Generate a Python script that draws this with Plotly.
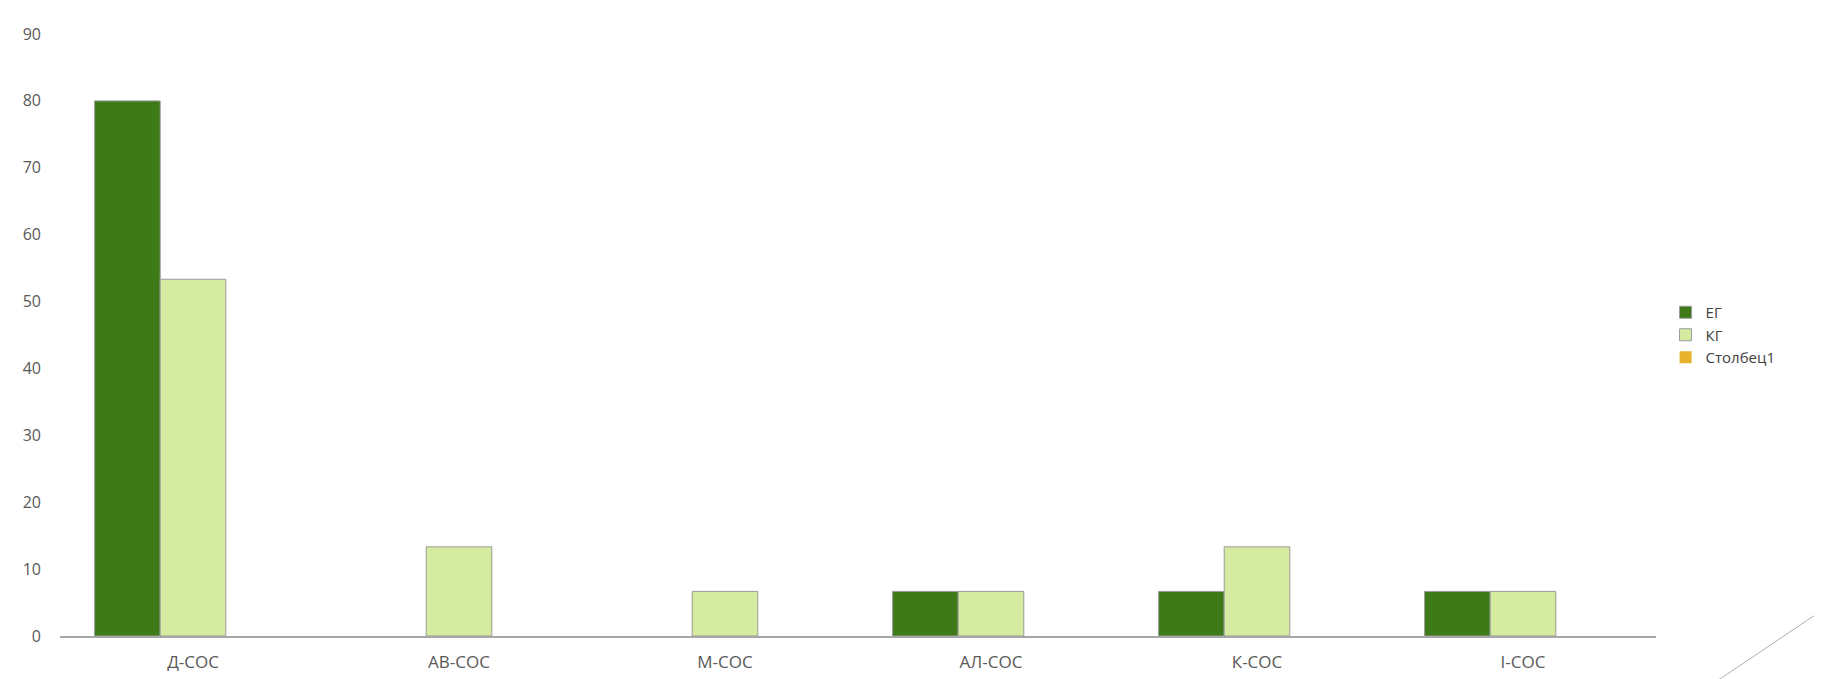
import plotly.graph_objects as go

categorias = ["Д-СОС", "АВ-СОС", "М-СОС", "АЛ-СОС", "К-СОС", "І-СОС"]
eg = [80, None, None, 6.67, 6.67, 6.67]
kg = [53.33, 13.33, 6.67, 6.67, 13.33, 6.67]
stolbets1 = [0, 0, 0, 0, 0, 0]

COR_EG = "#3f7a18"
COR_KG = "#d5eba0"
COR_S1 = "#e8b32c"
BORDA = "#9a9a9a"

fig = go.Figure()
fig.add_trace(go.Bar(x=categorias, y=eg, name="ЕГ",
                     marker=dict(color=COR_EG, line=dict(color=BORDA, width=1))))
fig.add_trace(go.Bar(x=categorias, y=kg, name="КГ",
                     marker=dict(color=COR_KG, line=dict(color=BORDA, width=1))))
fig.add_trace(go.Bar(x=categorias, y=stolbets1, name="Столбец1",
                     marker=dict(color=COR_S1, line=dict(color=COR_S1, width=0))))

fig.update_layout(
    width=1822,
    height=679,
    template="plotly_white",
    barmode="group",
    bargap=0.26,
    bargroupgap=0,
    margin=dict(l=52, r=174, t=26, b=51),
    font=dict(family="Open Sans", color="#595959"),
    legend=dict(x=1.006, y=0.5, yanchor="middle", xanchor="left",
                font=dict(size=15, color="#404040"), tracegroupgap=0,
                itemwidth=30),
    xaxis=dict(showgrid=False, showline=True, linecolor="#a6a6a6", linewidth=2,
               tickfont=dict(size=17, color="#595959"), ticks="",
               ticklabelstandoff=10),
    yaxis=dict(range=[0, 90], dtick=10, showgrid=False, zeroline=False,
               showline=False, tickfont=dict(size=16, color="#595959"),
               ticklabelstandoff=18),
    shapes=[dict(type="line", xref="paper", yref="paper",
                 x0=1.109, y0=0.0515, x1=1.0326, y1=-0.0847,
                 line=dict(color="#b0b0b0", width=1))],
)

fig.write_html("out.html")
